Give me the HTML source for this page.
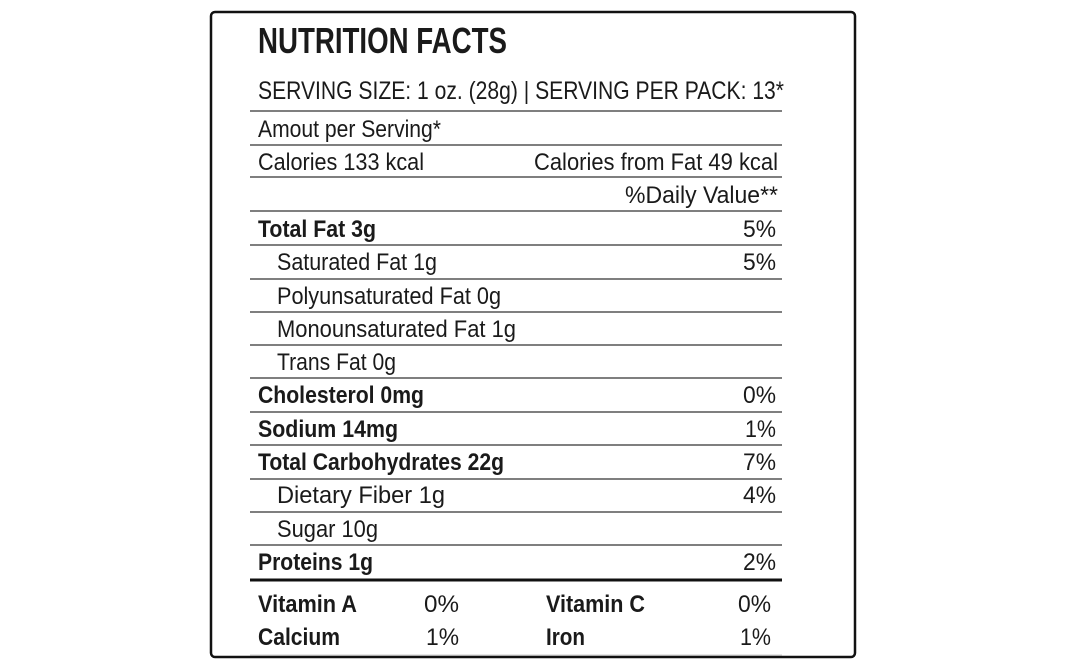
<!DOCTYPE html>
<html><head><meta charset="utf-8"><style>
html,body{margin:0;padding:0;background:#fff;width:1068px;height:671px;overflow:hidden}
svg{display:block}
text{font-family:"Liberation Sans",sans-serif;fill:#1a1a1a}
.b{font-weight:bold}
</style></head><body>
<svg width="1068" height="671" viewBox="0 0 1068 671">
<rect x="211" y="12" width="644" height="645" rx="4" fill="none" stroke="#111" stroke-width="2.5"/>
<g stroke="#333" stroke-width="1.3">
<line x1="250" x2="782" y1="111" y2="111"/>
<line x1="250" x2="782" y1="145" y2="145"/>
<line x1="250" x2="782" y1="177" y2="177"/>
<line x1="250" x2="782" y1="211" y2="211"/>
<line x1="250" x2="782" y1="245" y2="245"/>
<line x1="250" x2="782" y1="279" y2="279"/>
<line x1="250" x2="782" y1="312" y2="312"/>
<line x1="250" x2="782" y1="345" y2="345"/>
<line x1="250" x2="782" y1="378" y2="378"/>
<line x1="250" x2="782" y1="412" y2="412"/>
<line x1="250" x2="782" y1="445" y2="445"/>
<line x1="250" x2="782" y1="479" y2="479"/>
<line x1="250" x2="782" y1="512" y2="512"/>
<line x1="250" x2="782" y1="545" y2="545"/>
</g>
<line x1="250" x2="782" y1="580" y2="580" stroke="#111" stroke-width="3"/>
<line x1="250" x2="782" y1="655" y2="655" stroke="#ccc" stroke-width="1"/>

<text class="b" x="258" y="53" font-size="36" textLength="249" lengthAdjust="spacingAndGlyphs">NUTRITION FACTS</text>
<text x="258" y="99" font-size="25" textLength="526" lengthAdjust="spacingAndGlyphs">SERVING SIZE: 1 oz. (28g) | SERVING PER PACK: 13*</text>
<g font-size="24">
<text x="258" y="137" textLength="183" lengthAdjust="spacingAndGlyphs">Amout per Serving*</text>
<text x="258" y="170" textLength="166" lengthAdjust="spacingAndGlyphs">Calories 133 kcal</text>
<text x="534" y="170" textLength="244" lengthAdjust="spacingAndGlyphs">Calories from Fat 49 kcal</text>
<text x="625" y="203" textLength="153" lengthAdjust="spacingAndGlyphs">%Daily Value**</text>

<text class="b" x="258" y="237" textLength="118" lengthAdjust="spacingAndGlyphs">Total Fat 3g</text>
<text x="743" y="237" textLength="33" lengthAdjust="spacingAndGlyphs">5%</text>
<text x="277" y="270" textLength="160" lengthAdjust="spacingAndGlyphs">Saturated Fat 1g</text>
<text x="743" y="270" textLength="33" lengthAdjust="spacingAndGlyphs">5%</text>
<text x="277" y="304" textLength="224" lengthAdjust="spacingAndGlyphs">Polyunsaturated Fat 0g</text>
<text x="277" y="337" textLength="239" lengthAdjust="spacingAndGlyphs">Monounsaturated Fat 1g</text>
<text x="277" y="370" textLength="119" lengthAdjust="spacingAndGlyphs">Trans Fat 0g</text>
<text class="b" x="258" y="403" textLength="166" lengthAdjust="spacingAndGlyphs">Cholesterol 0mg</text>
<text x="743" y="403" textLength="33" lengthAdjust="spacingAndGlyphs">0%</text>
<text class="b" x="258" y="437" textLength="140" lengthAdjust="spacingAndGlyphs">Sodium 14mg</text>
<text x="745" y="437" textLength="31" lengthAdjust="spacingAndGlyphs">1%</text>
<text class="b" x="258" y="470" textLength="246" lengthAdjust="spacingAndGlyphs">Total Carbohydrates 22g</text>
<text x="743" y="470" textLength="33" lengthAdjust="spacingAndGlyphs">7%</text>
<text x="277" y="503" textLength="168" lengthAdjust="spacingAndGlyphs">Dietary Fiber 1g</text>
<text x="743" y="503" textLength="33" lengthAdjust="spacingAndGlyphs">4%</text>
<text x="277" y="537" textLength="101" lengthAdjust="spacingAndGlyphs">Sugar 10g</text>
<text class="b" x="258" y="570" textLength="115" lengthAdjust="spacingAndGlyphs">Proteins 1g</text>
<text x="743" y="570" textLength="33" lengthAdjust="spacingAndGlyphs">2%</text>

<text class="b" x="258" y="612" textLength="99" lengthAdjust="spacingAndGlyphs">Vitamin A</text>
<text x="424" y="612" textLength="35" lengthAdjust="spacingAndGlyphs">0%</text>
<text class="b" x="546" y="612" textLength="99" lengthAdjust="spacingAndGlyphs">Vitamin C</text>
<text x="738" y="612" textLength="33" lengthAdjust="spacingAndGlyphs">0%</text>
<text class="b" x="258" y="645" textLength="82" lengthAdjust="spacingAndGlyphs">Calcium</text>
<text x="426" y="645" textLength="33" lengthAdjust="spacingAndGlyphs">1%</text>
<text class="b" x="546" y="645" textLength="39" lengthAdjust="spacingAndGlyphs">Iron</text>
<text x="740" y="645" textLength="31" lengthAdjust="spacingAndGlyphs">1%</text>
</g>
</svg>
</body></html>
